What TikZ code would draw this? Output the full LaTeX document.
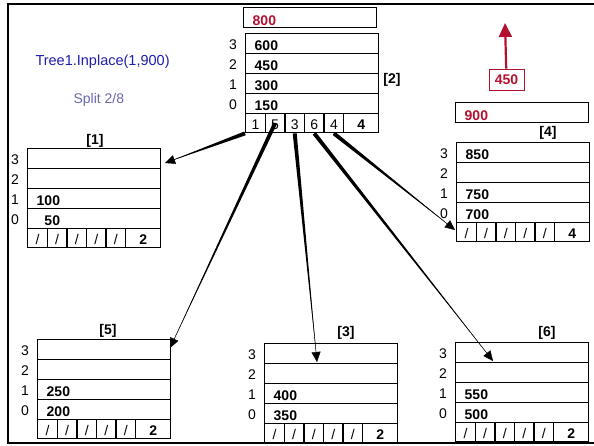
\documentclass[tikz,border=0pt]{standalone}
\usepackage{fontspec}
\setmainfont{Liberation Sans}
\usetikzlibrary{arrows.meta,positioning,calc}
\definecolor{keyred}{RGB}{178,18,48}
\definecolor{callblue}{RGB}{30,30,170}
\definecolor{notegray}{RGB}{105,105,170}

\begin{document}
\begin{tikzpicture}[
    x=1pt, y=-1pt,
    slot/.style={rectangle, draw, line width=1.4pt,
      text width=115pt, inner xsep=9pt, inner ysep=0pt, minimum height=20pt,
      text height=13pt, text depth=0pt, align=left,
      font=\fontsize{14}{16}\selectfont\bfseries},
    buf/.style={slot, text height=15pt, text=keyred},
    cell/.style={rectangle, draw, line width=1.4pt,
      minimum width=19.6pt, minimum height=19pt, inner sep=0pt,
      text height=12pt, text depth=0pt,
      font=\fontsize{14}{16}\selectfont},
    idx/.style={inner sep=0pt, font=\fontsize{14}{16}\selectfont},
    tag/.style={inner sep=0pt, font=\fontsize{14}{16}\selectfont\bfseries},
    ptr/.style={-{Triangle[length=10pt,width=9pt]}, line width=0.4pt}
  ]
    \useasboundingbox (0,0) rectangle (594,445);
    \draw[line width=2pt] (594,4) -- (8,4) -- (8,443) -- (594,443);

    \node[anchor=base west, text=callblue, font=\fontsize{14.5}{16}\selectfont]
      (call) at (32,65) {Tree1.Inplace(1,900)};
    \node[anchor=base west, text=notegray, font=\fontsize{14}{16}\selectfont]
      (split) at (70,103) {Split 2/8};

    % tree nodes: name/x/y/keys/pointers/count
    \foreach \nm/\x/\y/\keys/\ptrs/\last in {
        n2/245/33/{600,450,300,150}/{1,5,3,6,4}/4,
        n1/27/148/{{},{},100,\hphantom{0}50}/{/,/,/,/,/}/2,
        n4/456/142/{850,{},750,700}/{/,/,/,/,/}/4,
        n5/37/339/{{},{},250,200}/{/,/,/,/,/}/2,
        n3/264/343/{{},{},400,350}/{/,/,/,/,/}/2,
        n6/455/342/{{},{},550,500}/{/,/,/,/,/}/2}
    {
      \foreach \k [count=\i from 0] in \keys {
        \pgfmathtruncatemacro\lv{3-\i}
        \node[slot, anchor=north west] (\nm-\lv) at (\x,\y+20*\i) {\k};
        \node[idx, anchor=base] (\nm-i\lv) at (\x-12,\y+20*\i+16.5) {\lv};
      }
      \foreach \t [count=\j] in \ptrs
        \node[cell, anchor=north west] (\nm-p\j) at (\x+19.6*\j-19.6,\y+80) {\t};
      \node[cell, minimum width=35pt, font=\fontsize{14}{16}\selectfont\bfseries,
        anchor=north west] (\nm-p6) at (\x+98,\y+80) {\last};
    }

    \node[tag] (lab2) at (392,80) {[2]};
    \node[tag] (lab1) at (95,141) {[1]};
    \node[tag] (lab4) at (548,133) {[4]};
    \node[tag] (lab5) at (108,331) {[5]};
    \node[tag] (lab3) at (346,333) {[3]};
    \node[tag] (lab6) at (547,333) {[6]};

    \node[buf, anchor=north west] (buf2) at (243,7) {800};
    \node[buf, anchor=north west] (buf4) at (455,102) {900};

    \node[draw=keyred, line width=0.8pt, minimum width=35pt, minimum height=21pt,
      inner sep=0pt, text=keyred, font=\fontsize{14}{16}\selectfont\bfseries]
      (up) at (506.5,79.5) {450};
    \coordinate (uptip) at (505,23);
    \draw[keyred, line width=2.2pt, -{Triangle[length=14pt,width=13pt]}] (up) -- (uptip);

    \coordinate (t1) at (165,163);
    \coordinate (t5) at (170,348);
    \coordinate (t3) at (317,362);
    \coordinate (t6) at (493,361);
    \coordinate (t4) at (455,230);

    \foreach \a/\b in {n2-p1.south west/t1, n2-p2.center/t5, n2-p3.south/t3,
        n2-p4.south/t6, n2-p5.south/t4} {
      \fill ($(\a)!2pt!90:(\b)$) -- ($(\a)!2pt!-90:(\b)$) -- (\b) -- cycle;
      \draw[ptr] (\a) -- (\b);
    }
  \end{tikzpicture}
\end{document}
